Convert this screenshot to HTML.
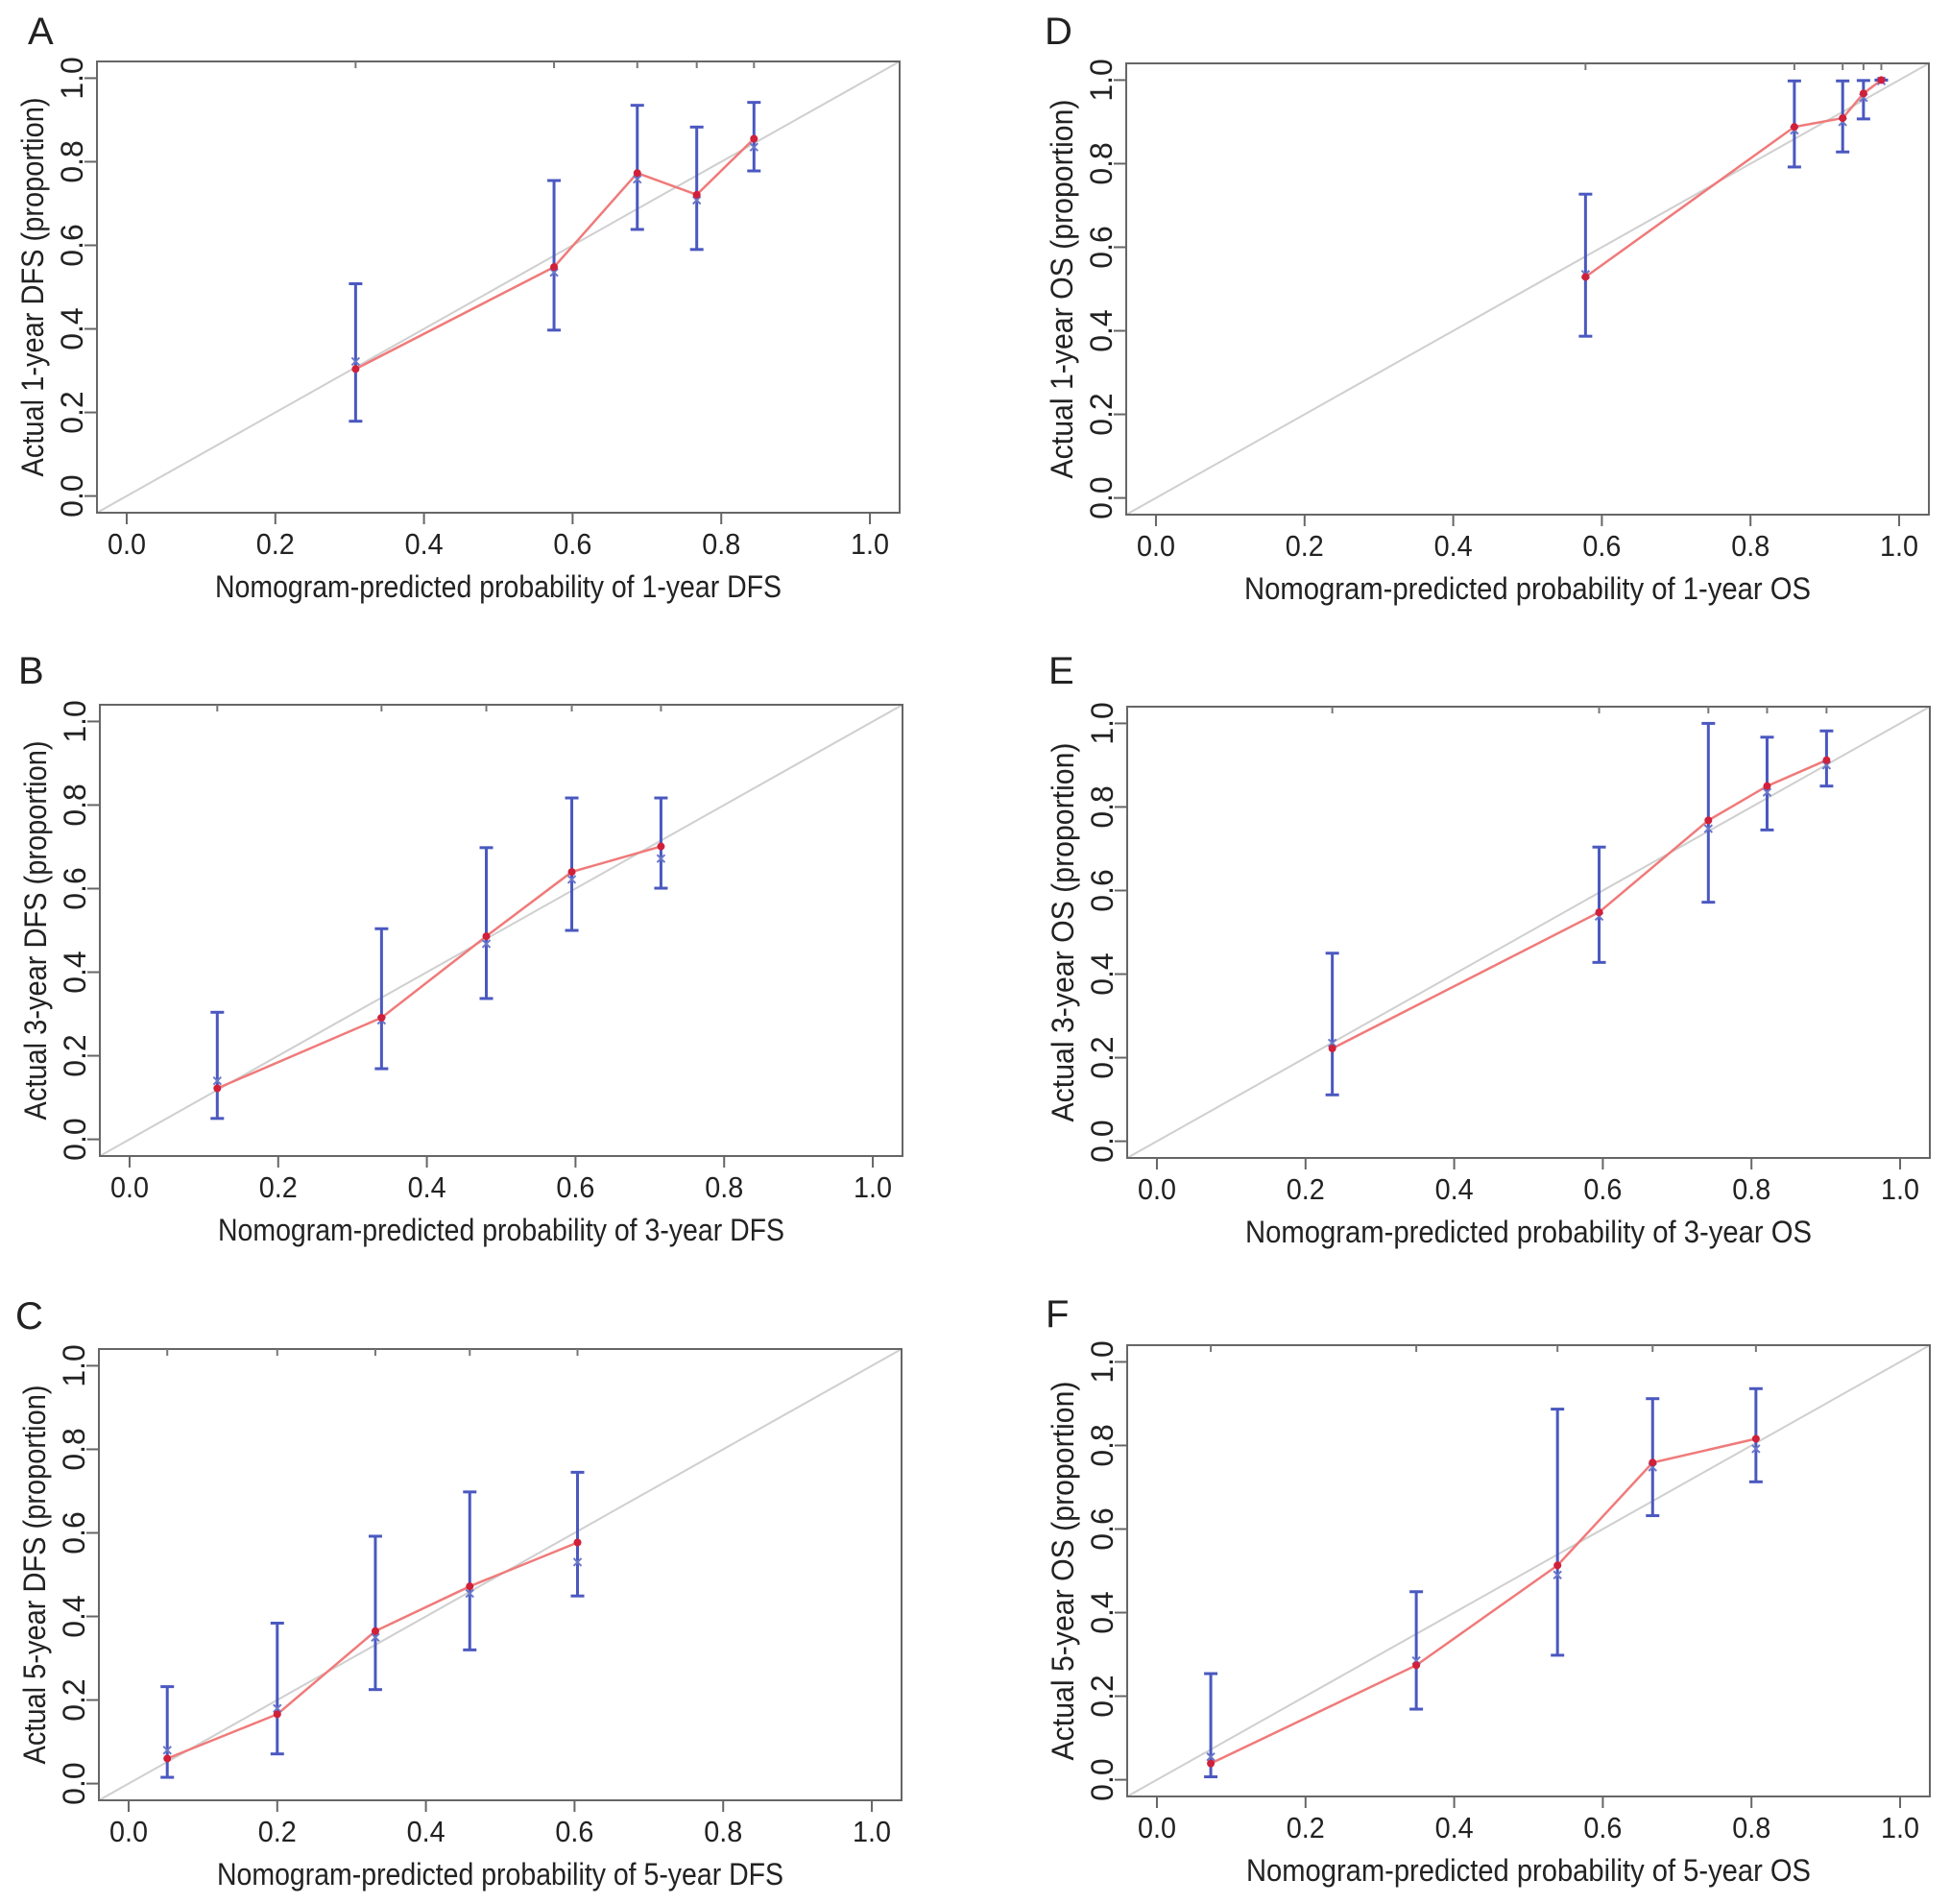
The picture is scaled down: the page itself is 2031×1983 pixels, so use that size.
<!DOCTYPE html>
<html>
<head>
<meta charset="utf-8">
<style>
html,body{margin:0;padding:0;background:#fff;}
svg{display:block;}
text{font-family:"Liberation Sans",Arial,sans-serif;fill:#222;}
</style>
</head>
<body>
<svg id="fig" width="2031" height="1983" viewBox="0 0 2031 1983" xmlns="http://www.w3.org/2000/svg">
<rect x="0" y="0" width="2031" height="1983" fill="#fff"/>
</svg>
<script>
// ---- data (predicted probability, observed proportion, CI low, CI high, bias-corrected) ----
const predA = [0.308, 0.575, 0.687, 0.767, 0.844];
const obsA  = [0.304, 0.548, 0.773, 0.721, 0.855];
const loA   = [0.179, 0.397, 0.638, 0.590, 0.778];
const hiA   = [0.508, 0.755, 0.935, 0.883, 0.942];
const corA  = [0.322, 0.535, 0.758, 0.708, 0.835];

const predB = [0.118, 0.339, 0.480, 0.595, 0.715];
const obsB  = [0.122, 0.291, 0.486, 0.640, 0.701];
const loB   = [0.050, 0.169, 0.337, 0.500, 0.601];
const hiB   = [0.304, 0.504, 0.698, 0.817, 0.817];
const corB  = [0.140, 0.285, 0.468, 0.622, 0.672];

const predC = [0.052, 0.200, 0.332, 0.459, 0.604];
const obsC  = [0.060, 0.166, 0.365, 0.472, 0.577];
const loC   = [0.015, 0.071, 0.225, 0.320, 0.449];
const hiC   = [0.232, 0.384, 0.592, 0.698, 0.745];
const corC  = [0.080, 0.180, 0.350, 0.455, 0.530];

const predD = [0.578, 0.859, 0.924, 0.952, 0.976];
const obsD  = [0.529, 0.888, 0.909, 0.968, 1.000];
const loD   = [0.387, 0.792, 0.828, 0.907, 1.000];
const hiD   = [0.727, 0.998, 0.998, 0.999, 1.000];
const corD  = [0.535, 0.880, 0.900, 0.958, 0.998];

const predE = [0.236, 0.595, 0.742, 0.821, 0.901];
const obsE  = [0.222, 0.548, 0.768, 0.850, 0.912];
const loE   = [0.111, 0.428, 0.572, 0.745, 0.850];
const hiE   = [0.450, 0.704, 1.000, 0.967, 0.982];
const corE  = [0.235, 0.538, 0.748, 0.835, 0.900];

const predF = [0.0725, 0.349, 0.539, 0.667, 0.806];
const obsF  = [0.039, 0.274, 0.513, 0.759, 0.816];
const loF   = [0.007, 0.169, 0.298, 0.632, 0.713];
const hiF   = [0.254, 0.450, 0.887, 0.912, 0.936];
const corF  = [0.055, 0.285, 0.490, 0.748, 0.792];

const tickValues = [0, 0.2, 0.4, 0.6, 0.8, 1.0];
const tickLabels = ["0.0", "0.2", "0.4", "0.6", "0.8", "1.0"];

const NS = "http://www.w3.org/2000/svg";
const svg = document.getElementById("fig");

function mk(tag, attrs, parent) {
  const e = document.createElementNS(NS, tag);
  for (const k in attrs) e.setAttribute(k, attrs[k]);
  (parent || svg).appendChild(e);
  return e;
}

function drawPanel(p) {
  const W = 836, H = 470;
  const L = p.L, T = p.T, R = L + W, B = T + H;
  const lo = -0.04, hiV = 1.04;
  const sx = v => L + (v - lo) / (hiV - lo) * W;
  const sy = v => B - (v - lo) / (hiV - lo) * H;

  const g = mk("g", {});
  
  

  const lab = mk("text", {x: p.lx, y: p.ly, "font-size": 40}, g);
  lab.textContent = p.letter;
  
  

  const diag = mk("line", {x1: L, y1: B, x2: R, y2: T, stroke: "#cfcfcf", "stroke-width": 2}, g);
  
  

  const fr = mk("rect", {x: L, y: T, width: W, height: H, fill: "none", stroke: "#666", "stroke-width": 2}, g);
  
  

  tickValues.forEach((v, i) => {
    const xt = mk("line", {x1: sx(v), y1: B, x2: sx(v), y2: B + 12, stroke: "#666", "stroke-width": 2}, g);
    
    
    const xl = mk("text", {x: sx(v), y: B + 43, "font-size": 31, "text-anchor": "middle", textLength: 40, lengthAdjust: "spacingAndGlyphs"}, g);
    xl.textContent = tickLabels[i];
    
    

    const yt = mk("line", {x1: L, y1: sy(v), x2: L - 13, y2: sy(v), stroke: "#666", "stroke-width": 2}, g);
    
    
    const yl = mk("text", {x: 0, y: 0, "font-size": 32, "text-anchor": "middle",
      transform: "translate(" + (L - 15) + "," + sy(v) + ") rotate(-90)"}, g);
    yl.textContent = tickLabels[i];
    
    
  });

  const xt = mk("text", {x: L + W / 2, y: B + 88, "font-size": 32, "text-anchor": "middle", textLength: p.xw, lengthAdjust: "spacingAndGlyphs"}, g);
  xt.textContent = p.xtitle;
  
  
  const yt = mk("text", {x: 0, y: 0, "font-size": 32, "text-anchor": "middle", textLength: 395, lengthAdjust: "spacingAndGlyphs",
    transform: "translate(" + (L - 56) + "," + (T + H / 2) + ") rotate(-90)"}, g);
  yt.textContent = p.ytitle;
  
  

  p.pred.forEach(v => {
    const r = mk("line", {x1: sx(v), y1: T, x2: sx(v), y2: T + 7, stroke: "#777", "stroke-width": 2}, g);
    
    
  });

  const pts = p.pred.map((v, i) => sx(v) + "," + sy(p.obs[i])).join(" ");
  const pl = mk("polyline", {points: pts, fill: "none", stroke: "#f07a7a", "stroke-width": 2.5}, g);
  
  

  p.pred.forEach((v, i) => {
    const x = sx(v);
    const eg = mk("g", {stroke: "#4a58c0", "stroke-width": 3}, g);
    
    
    mk("line", {x1: x, y1: sy(p.lo[i]), x2: x, y2: sy(p.hi[i])}, eg);
    mk("line", {x1: x - 7, y1: sy(p.lo[i]), x2: x + 7, y2: sy(p.lo[i])}, eg);
    mk("line", {x1: x - 7, y1: sy(p.hi[i]), x2: x + 7, y2: sy(p.hi[i])}, eg);
    const cy = sy(p.cor[i]);
    const cx = mk("path", {d: "M" + (x - 4) + " " + (cy - 4) + "L" + (x + 4) + " " + (cy + 4) + "M" + (x - 4) + " " + (cy + 4) + "L" + (x + 4) + " " + (cy - 4), stroke: "#6a78c8", "stroke-width": 2}, g);
    
    
    const dot = mk("circle", {cx: x, cy: sy(p.obs[i]), r: 4, fill: "#d0203a"}, g);
    
    
  });
}

drawPanel({letter: "A", L: 101, T: 64, lx: 29, ly: 46, pred: predA, obs: obsA, lo: loA, hi: hiA, cor: corA,
  xtitle: "Nomogram-predicted probability of 1-year DFS", xw: 590, ytitle: "Actual 1-year DFS (proportion)"});
drawPanel({letter: "B", L: 104, T: 734, lx: 19, ly: 712, pred: predB, obs: obsB, lo: loB, hi: hiB, cor: corB,
  xtitle: "Nomogram-predicted probability of 3-year DFS", xw: 590, ytitle: "Actual 3-year DFS (proportion)"});
drawPanel({letter: "C", L: 103, T: 1405, lx: 16, ly: 1384, pred: predC, obs: obsC, lo: loC, hi: hiC, cor: corC,
  xtitle: "Nomogram-predicted probability of 5-year DFS", xw: 590, ytitle: "Actual 5-year DFS (proportion)"});
drawPanel({letter: "D", L: 1173, T: 66, lx: 1088, ly: 46, pred: predD, obs: obsD, lo: loD, hi: hiD, cor: corD,
  xtitle: "Nomogram-predicted probability of 1-year OS", xw: 590, ytitle: "Actual 1-year OS (proportion)"});
drawPanel({letter: "E", L: 1174, T: 736, lx: 1092, ly: 712, pred: predE, obs: obsE, lo: loE, hi: hiE, cor: corE,
  xtitle: "Nomogram-predicted probability of 3-year OS", xw: 590, ytitle: "Actual 3-year OS (proportion)"});
drawPanel({letter: "F", L: 1174, T: 1401, lx: 1089, ly: 1382, pred: predF, obs: obsF, lo: loF, hi: hiF, cor: corF,
  xtitle: "Nomogram-predicted probability of 5-year OS", xw: 588, ytitle: "Actual 5-year OS (proportion)"});
</script>
</body>
</html>
